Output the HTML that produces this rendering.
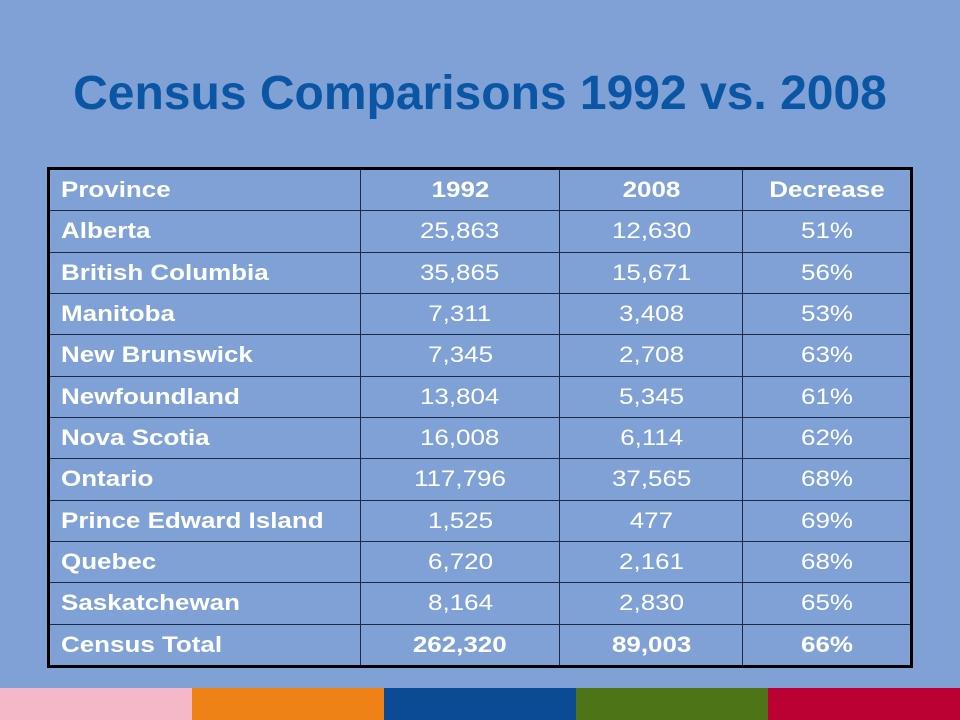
<!DOCTYPE html>
<html><head><meta charset="utf-8"><style>
body{margin:0;width:960px;height:720px;background:#80a1d6;position:relative;overflow:hidden;font-family:"Liberation Sans",Arial,sans-serif}
h1{position:absolute;left:0;width:960px;top:66px;margin:0;text-align:center;font-size:48px;font-weight:bold;color:#0b56a4}
table{position:absolute;left:47px;top:167px;width:866px;height:501px;border-collapse:collapse;border:3px solid #000;color:#fff;font-size:22px}
td{border:1px solid #1c2a4a;padding:0 0 0 11px;height:40px}
td span{display:inline-block;transform:scaleX(1.18);transform-origin:left center}
td:not(:first-child){text-align:center;padding:0}
td:not(:first-child) span{transform-origin:center center}
tr.h td,tr.t td,td:first-child{font-weight:bold}
.bar{position:absolute;top:688px;height:32px;width:192px}
</style></head><body>
<h1>Census Comparisons 1992 vs. 2008</h1>
<table>
<colgroup><col style="width:313px"><col style="width:200px"><col style="width:184px"><col style="width:169px"></colgroup>
<tr class="h"><td><span>Province</span></td><td><span>1992</span></td><td><span>2008</span></td><td><span>Decrease</span></td></tr>
<tr><td><span>Alberta</span></td><td><span>25,863</span></td><td><span>12,630</span></td><td><span>51%</span></td></tr>
<tr><td><span>British Columbia</span></td><td><span>35,865</span></td><td><span>15,671</span></td><td><span>56%</span></td></tr>
<tr><td><span>Manitoba</span></td><td><span>7,311</span></td><td><span>3,408</span></td><td><span>53%</span></td></tr>
<tr><td><span>New Brunswick</span></td><td><span>7,345</span></td><td><span>2,708</span></td><td><span>63%</span></td></tr>
<tr><td><span>Newfoundland</span></td><td><span>13,804</span></td><td><span>5,345</span></td><td><span>61%</span></td></tr>
<tr><td><span>Nova Scotia</span></td><td><span>16,008</span></td><td><span>6,114</span></td><td><span>62%</span></td></tr>
<tr><td><span>Ontario</span></td><td><span>117,796</span></td><td><span>37,565</span></td><td><span>68%</span></td></tr>
<tr><td><span>Prince Edward Island</span></td><td><span>1,525</span></td><td><span>477</span></td><td><span>69%</span></td></tr>
<tr><td><span>Quebec</span></td><td><span>6,720</span></td><td><span>2,161</span></td><td><span>68%</span></td></tr>
<tr><td><span>Saskatchewan</span></td><td><span>8,164</span></td><td><span>2,830</span></td><td><span>65%</span></td></tr>
<tr class="t"><td><span>Census Total</span></td><td><span>262,320</span></td><td><span>89,003</span></td><td><span>66%</span></td></tr>
</table>
<div class="bar" style="left:0;background:#f4b8c8"></div>
<div class="bar" style="left:192px;background:#ee8216"></div>
<div class="bar" style="left:384px;background:#0b4a94"></div>
<div class="bar" style="left:576px;background:#4d7417"></div>
<div class="bar" style="left:768px;background:#bb0033"></div>
</body></html>
